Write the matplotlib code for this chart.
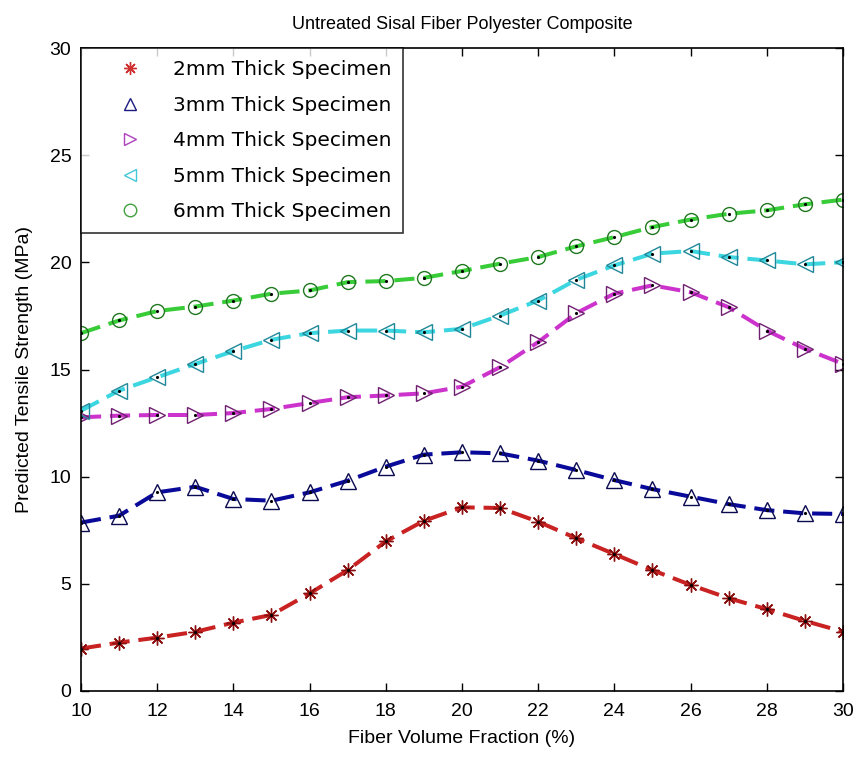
import matplotlib
matplotlib.use("Agg")
import matplotlib.pyplot as plt

plt.rcParams['font.family'] = ['Liberation Sans', 'DejaVu Sans']

fiber_fraction = list(range(10, 31))

# predicted tensile strength (MPa) per specimen thickness
strength_2mm = [1.98, 2.26, 2.49, 2.76, 3.19, 3.55, 4.55, 5.64, 6.98, 7.94, 8.57,
                8.54, 7.90, 7.13, 6.39, 5.64, 4.95, 4.33, 3.82, 3.27, 2.77]
strength_3mm = [7.86, 8.18, 9.27, 9.53, 8.96, 8.88, 9.27, 9.81, 10.47, 11.03, 11.14,
                11.09, 10.75, 10.31, 9.84, 9.42, 9.07, 8.72, 8.44, 8.29, 8.26]
strength_4mm = [12.77, 12.85, 12.88, 12.88, 12.97, 13.16, 13.44, 13.71, 13.79, 13.89, 14.2,
                15.11, 16.28, 17.63, 18.54, 18.93, 18.61, 17.91, 16.82, 15.97, 15.27]
strength_5mm = [13.08, 14.02, 14.64, 15.26, 15.86, 16.39, 16.70, 16.82, 16.82, 16.74, 16.9,
                17.52, 18.22, 19.19, 19.86, 20.41, 20.53, 20.25, 20.09, 19.91, 20.01]
strength_6mm = [16.70, 17.29, 17.73, 17.94, 18.22, 18.54, 18.69, 19.08, 19.13, 19.28, 19.6,
                19.94, 20.25, 20.75, 21.18, 21.65, 22.00, 22.27, 22.43, 22.71, 22.93]

labels = ["2mm Thick Specimen", "3mm Thick Specimen", "4mm Thick Specimen",
          "5mm Thick Specimen", "6mm Thick Specimen"]

fig = plt.figure(figsize=(8.58, 7.59), dpi=100)
ax = fig.add_axes([0.0944, 0.0896, 0.888, 0.847])

series = [strength_2mm, strength_3mm, strength_4mm, strength_5mm, strength_6mm]
line_colors = ["#C82222", "#0A0A9A", "#CC33CC", "#3CD6E0", "#38CC38"]
edge_colors = ["#8B1010", "#0A0A50", "#702070", "#208898", "#207820"]
legend_colors = ["#D03030", "#1A1A80", "#B040C0", "#40C8D8", "#40A040"]
asterisk = (8, 2, 0)
markers = [asterisk, "^", ">", "<", "o"]
sizes = [10, 11, 11, 11, 10]

handles = []
for vals, lc, ec, lgc, m, s, lab in zip(series, line_colors, edge_colors, legend_colors,
                                       markers, sizes, labels):
    ax.plot(fiber_fraction, vals, linestyle=(0, (5, 2.2)), color=lc, linewidth=2.9,
            marker=m, markersize=s, markerfacecolor="none", markeredgecolor=ec,
            markeredgewidth=1.0)
    ax.plot(fiber_fraction, vals, linestyle="none", marker=".", markersize=2.5, color="black")
    h, = ax.plot([], [], linestyle="none", marker=m, markersize=9, markerfacecolor="none",
                 markeredgecolor=lgc, markeredgewidth=1.0, label=lab)
    handles.append(h)

ax.set_xlim(10, 30)
ax.set_ylim(0, 30)
ax.set_xticks(range(10, 31, 2))
ax.set_yticks(range(0, 31, 5))
ax.tick_params(direction="in", top=True, right=True, labelsize=14, length=6, width=1)
ax.tick_params(axis="x", pad=9)
ax.tick_params(axis="y", pad=7)
for sp in ax.spines.values():
    sp.set_linewidth(1.2)

ax.set_xlabel("Fiber Volume Fraction (%)", fontsize=14, labelpad=7)
ax.set_ylabel("Predicted Tensile Strength (MPa)", fontsize=14, labelpad=12)
ax.set_title("Untreated Sisal Fiber Polyester Composite", fontsize=13, pad=14)

leg = ax.legend(handles=handles, loc="upper left", borderaxespad=0,
                frameon=True, fancybox=False, edgecolor="black", handlelength=3.7,
                handletextpad=0.25, borderpad=0.6, labelspacing=0.82,
                prop={'family': ['DejaVu Sans'], 'size': 14.5})
leg.get_frame().set_linewidth(1.2)

fig.savefig("out.png", dpi=100)
